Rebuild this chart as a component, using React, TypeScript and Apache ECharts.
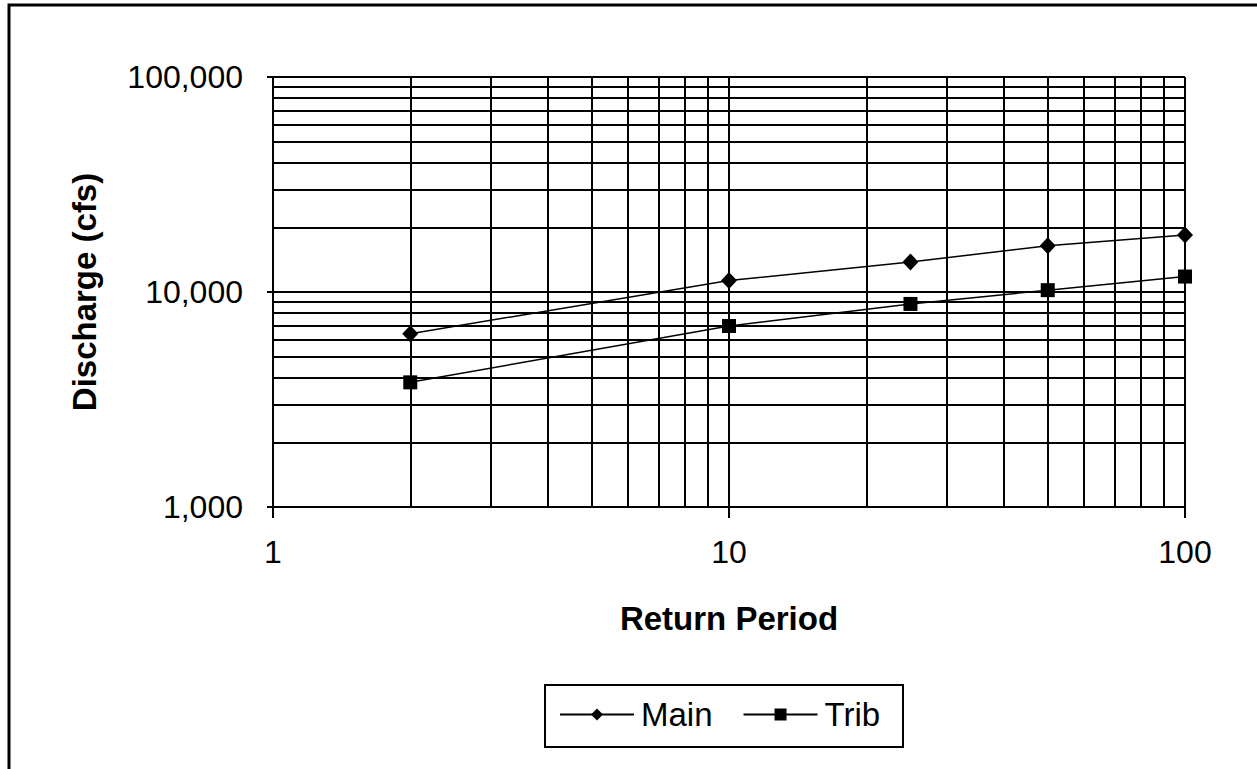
import React, { useEffect, useRef } from "react";
import * as echarts from "echarts";

// Return periods (years)
const returnPeriods = [2, 10, 25, 50, 100];
// Discharge (cfs)
const mainDischarge = [6400, 11300, 13800, 16400, 18400];
const tribDischarge = [3800, 6950, 8800, 10200, 11800];
// Minor log grid positions
const xMinorGrid = [2, 3, 4, 5, 6, 7, 8, 9, 20, 30, 40, 50, 60, 70, 80, 90];
const yMinorGrid = [
  2000, 3000, 4000, 5000, 6000, 7000, 8000, 9000,
  20000, 30000, 40000, 50000, 60000, 70000, 80000, 90000,
];

const FONT = "'Liberation Sans', Arial, sans-serif";

export default function App() {
  const ref = useRef<HTMLDivElement>(null);
  useEffect(() => {
    if (!ref.current) return;
    const chart = echarts.init(ref.current, null, { renderer: "svg" });
    const gridLineStyle = { color: "#000", width: 2, type: "solid" as const };
    const option = {
      animation: false,
      backgroundColor: "#fff",
      textStyle: { fontFamily: FONT, color: "#000" },
      grid: { left: 273, top: 77, right: 72, bottom: 262, containLabel: false },
      xAxis: {
        type: "log",
        logBase: 10,
        min: 1,
        max: 100,
        name: "Return Period",
        nameLocation: "middle",
        nameGap: 95,
        nameTextStyle: { fontFamily: FONT, fontSize: 33, fontWeight: "bold", color: "#000" },
        axisLine: { show: true, lineStyle: { color: "#000", width: 2 } },
        axisTick: { show: true, inside: false, length: 11, lineStyle: { color: "#000", width: 2 } },
        axisLabel: { fontFamily: FONT, fontSize: 32, color: "#000", margin: 29 },
        splitLine: { show: true, lineStyle: gridLineStyle },
        minorTick: { show: false },
        minorSplitLine: { show: false },
      },
      yAxis: {
        type: "log",
        logBase: 10,
        min: 1000,
        max: 100000,
        name: "Discharge (cfs)",
        nameLocation: "middle",
        nameGap: 172,
        nameRotate: 90,
        nameTextStyle: { fontFamily: FONT, fontSize: 33, fontWeight: "bold", color: "#000" },
        axisLine: { show: true, lineStyle: { color: "#000", width: 2 } },
        axisTick: { show: true, inside: false, length: 6, lineStyle: { color: "#000", width: 2 } },
        axisLabel: {
          fontFamily: FONT,
          fontSize: 32,
          color: "#000",
          margin: 30,
          formatter: (v: number) => Math.round(v).toLocaleString("en-US"),
        },
        splitLine: { show: true, lineStyle: gridLineStyle },
      },
      legend: {
        data: ["Main", "Trib"],
        left: 559,
        top: 698,
        orient: "horizontal",
        itemWidth: 74,
        itemHeight: 15,
        itemGap: 30,
        padding: 0,
        textStyle: { fontFamily: FONT, fontSize: 33, color: "#000", padding: [0, 0, 0, 2] },
      },
      graphic: [
        {
          type: "rect",
          shape: { x: 9, y: 5, width: 1400, height: 900 },
          style: { fill: "none", stroke: "#000", lineWidth: 3 },
          silent: true,
        },
        {
          type: "rect",
          shape: { x: 545, y: 685, width: 358, height: 62 },
          style: { fill: "none", stroke: "#000", lineWidth: 2 },
          silent: true,
        },
      ],
      series: [
        {
          name: "grid",
          type: "line",
          data: [],
          z: 1,
          silent: true,
          markLine: {
            silent: true,
            symbol: "none",
            label: { show: false },
            lineStyle: gridLineStyle,
            emphasis: { disabled: true },
            data: [
              ...xMinorGrid.map((v) => ({ xAxis: v })),
              ...yMinorGrid.map((v) => ({ yAxis: v })),
            ],
          },
        },
        {
          name: "Main",
          type: "line",
          z: 5,
          data: returnPeriods.map((x, i) => [x, mainDischarge[i]]),
          symbol: "diamond",
          symbolSize: [16, 17],
          lineStyle: { color: "#000", width: 1.5 },
          itemStyle: { color: "#000" },
        },
        {
          name: "Trib",
          type: "line",
          z: 5,
          data: returnPeriods.map((x, i) => [x, tribDischarge[i]]),
          symbol: "rect",
          symbolSize: 14,
          lineStyle: { color: "#000", width: 1.5 },
          itemStyle: { color: "#000" },
        },
      ],
    };
    chart.setOption(option as any);
    return () => chart.dispose();
  }, []);
  return (
    <div
      ref={ref}
      style={{ position: "fixed", left: 0, top: 0, width: 1257, height: 769, background: "#fff" }}
    />
  );
}
